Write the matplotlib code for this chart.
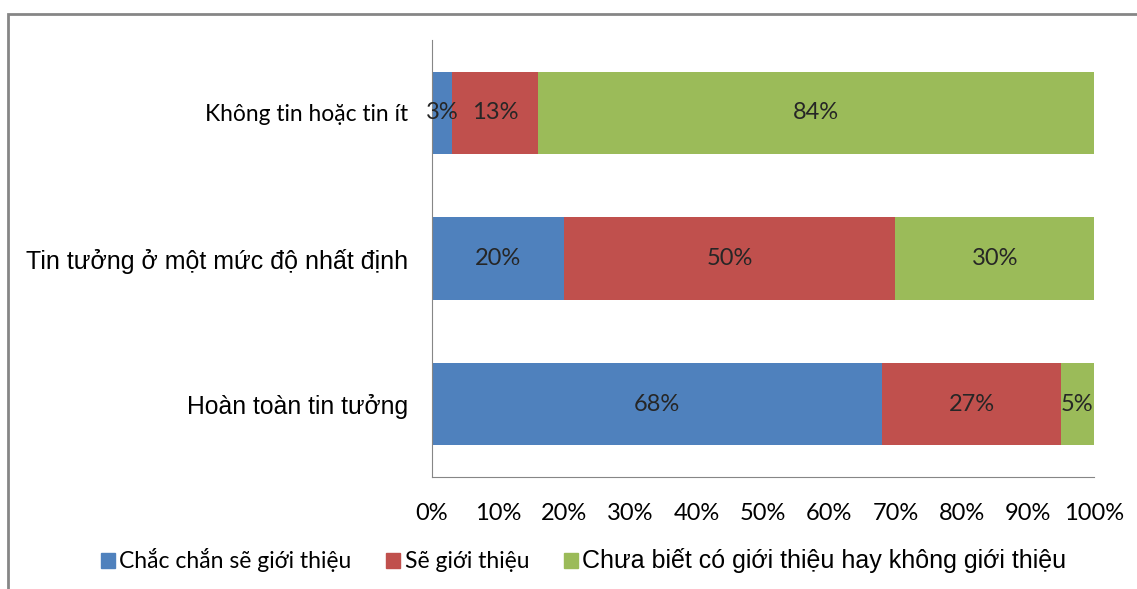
import matplotlib.pyplot as plt
from matplotlib.patches import Rectangle, Patch

categories = ["Hoàn toàn tin tưởng", "Tin tưởng ở một mức độ nhất định", "Không tin hoặc tin ít"]
series_names = ["Chắc chắn sẽ giới thiệu", "Sẽ giới thiệu", "Chưa biết có giới thiệu hay không giới thiệu"]
sure = [68, 20, 3]
will = [27, 50, 13]
unsure = [5, 30, 84]
colors = ["#4F81BD", "#C0504D", "#9BBB59"]
xticks = [0, 10, 20, 30, 40, 50, 60, 70, 80, 90, 100]

calibri = ["Lato", "DejaVu Sans"]
arial = ["Liberation Sans", "DejaVu Sans"]

fig = plt.figure(figsize=(11.37, 5.89), dpi=100)
ax = fig.add_axes([432 / 1137, 1 - 477 / 589, 662 / 1137, 437 / 589])

# outer chart frame
fig.patches.append(Rectangle((8 / 1137, -0.05), 1.1, 1 - 14 / 589 + 0.05,
                             transform=fig.transFigure, fill=False,
                             edgecolor="#868686", linewidth=2))

ypos = range(len(categories))
left = [0] * len(categories)
for vals, name, c in zip([sure, will, unsure], series_names, colors):
    bars = ax.barh(ypos, vals, left=left, height=0.565, color=c, label=name)
    for b, v in zip(bars, vals):
        ax.text(b.get_x() + b.get_width() / 2, b.get_y() + b.get_height() / 2,
                f"{v}%", ha="center", va="center", fontsize=17,
                color="#262626", family=calibri)
    left = [l + v for l, v in zip(left, vals)]

ax.set_xlim(0, 100)
ax.set_ylim(-0.5, 2.5)
ax.set_xticks(xticks)
ax.set_xticklabels([f"{t}%" for t in xticks], fontsize=17, family=calibri)
ax.set_yticks(list(ypos))
ax.set_yticklabels(categories)
fonts = [arial, arial, calibri]
sizes = [17.8, 18, 16.4]
for lab, fam, sz in zip(ax.get_yticklabels(), fonts, sizes):
    lab.set_family(fam)
    lab.set_fontsize(sz)
ax.tick_params(length=0)
ax.tick_params(axis="x", pad=19)
ax.tick_params(axis="y", pad=17.5)
for s in ["top", "right"]:
    ax.spines[s].set_visible(False)
for s in ["left", "bottom"]:
    ax.spines[s].set_color("#868686")

handles = [Patch(color=c) for c in colors]
leg = fig.legend(handles, series_names, loc="center left", bbox_to_anchor=(80 / 1137, 0.048),
                 ncol=3, frameon=False, handlelength=0.62,
                 handleheight=0.62, handletextpad=0.2, columnspacing=1.5,
                 prop={"family": calibri, "size": 16.5})
leg.get_texts()[2].set_family(arial)
leg.get_texts()[2].set_fontsize(18)

fig.savefig("out.png", dpi=100)
